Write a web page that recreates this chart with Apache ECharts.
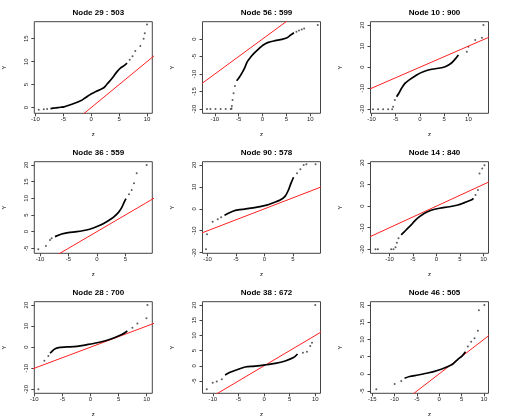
<!DOCTYPE html>
<html>
<head>
<meta charset="utf-8">
<script src="https://cdn.jsdelivr.net/npm/echarts@6/dist/echarts.min.js"></script>
<style>
  html, body { margin: 0; padding: 0; background: #fff; }
  #chart { width: 506px; height: 420px; }
</style>
</head>
<body>
<div id="chart"></div>
<script>
// panel titles, row by row
const titles = ['Node 29 : 503', 'Node 56 : 599', 'Node 10 : 900',
                'Node 36 : 559', 'Node 90 : 578', 'Node 14 : 840',
                'Node 28 : 700', 'Node 38 : 672', 'Node 46 : 505']

// dense part of each curve [z, Y]
const core29 = [[-7.3,-0.22],[-6.4,-0.08],[-5.5,0.07],[-4.9,0.14],[-4.0,0.51],[-3.1,0.88],[-1.9,1.46],[-1.0,2.19],[-0.1,2.92],[0.75,3.43],[1.65,3.95],[2.25,4.31],[2.85,5.12],[3.75,6.37],[4.64,7.82],[5.23,8.57],[5.83,9.08],[6.43,9.67]]
const tail29 = [[-9.4,-0.45],[-8.5,-0.37],[-7.9,-0.3],[6.9,10.4],[7.4,11.2],[7.9,12.3],[8.8,13.4],[9.4,15.0],[9.6,16.2],[10.0,18.1]]

const core56 = [[-5.42,-11.9],[-4.86,-10.9],[-4.35,-9.8],[-3.79,-8.4],[-3.21,-6.5],[-2.51,-5.2],[-1.65,-3.9],[-0.79,-2.8],[0.15,-1.7],[1.22,-0.95],[2.63,-0.48],[4.07,-0.1],[5.14,0.38],[5.85,1.1],[6.57,1.8]]
const tail56 = [[-11.63,-20],[-10.92,-20],[-9.85,-20],[-8.78,-20],[-7.71,-20],[-6.64,-20],[-6.49,-19.8],[-6.42,-19.1],[-6.27,-17.4],[-6.06,-15.5],[-5.78,-13.4],[7.1,2.1],[7.64,2.4],[8.2,2.7],[8.71,3.0],[11.57,4.0]]

const core10 = [[-4.82,-14.0],[-4.35,-12.4],[-3.79,-10.0],[-3.1,-7.7],[-2.07,-5.8],[-0.68,-3.7],[0.68,-2.2],[2.42,-1.0],[4.49,-0.25],[5.53,0.55],[6.56,2.1],[7.39,4.2],[7.93,5.8]]
const tail10 = [[-9.67,-20],[-8.63,-20],[-7.6,-20],[-6.56,-20],[-5.73,-20],[-5.53,-18.8],[-5.18,-15.6],[9.67,7.3],[10.0,9.7],[11.4,12.9],[12.79,14.0],[13.1,20]]

const core36 = [[-7.36,-1.5],[-6.19,-0.7],[-5.03,-0.3],[-3.55,0.0],[-1.8,0.5],[-0.63,1.1],[0.54,1.9],[1.72,3.0],[2.88,4.3],[3.76,5.7],[4.36,7.2],[4.76,8.7],[5.11,9.9]]
const tail36 = [[-10.3,-5.3],[-8.95,-4.3],[-8.24,-2.5],[-7.95,-2.0],[5.64,11.2],[6.12,12.5],[6.52,14.5],[7.0,17.5],[8.75,20]]

const core90 = [[-7.03,-3.0],[-6.44,-2.1],[-5.55,-1.1],[-4.66,-0.5],[-3.47,-0.1],[-1.99,0.4],[-0.8,1.0],[0.39,1.7],[1.57,2.8],[2.76,4.0],[3.65,5.8],[4.23,8.6],[4.66,11.6],[5.12,14.4]]
const tail90 = [[-10.28,-18.5],[-10.1,-11.6],[-9.11,-5.9],[-8.22,-4.8],[-7.62,-3.9],[5.73,16.2],[6.32,18.0],[6.9,20],[7.38,20.3],[8.99,20.3]]

const core14 = [[-7.51,-13.3],[-6.81,-11.8],[-6.09,-10.2],[-5.38,-8.7],[-4.68,-6.9],[-3.62,-4.9],[-2.55,-3.3],[-1.13,-1.9],[0.64,-1.0],[2.77,-0.3],[4.55,0.5],[5.96,1.6],[7.38,2.8],[7.87,3.6]]
const tail14 = [[-12.98,-19.9],[-12.47,-19.9],[-9.64,-19.9],[-9.15,-19.9],[-8.72,-19.0],[-8.43,-16.9],[-8.08,-14.8],[8.3,5.1],[8.81,7.4],[9.15,15.1],[9.72,17.4],[10.21,18.9]]

const core28 = [[-7.19,-2.9],[-6.77,-1.7],[-6.29,-0.7],[-5.39,-0.05],[-4.19,0.1],[-2.4,0.4],[-0.61,1.2],[1.18,2.1],[2.97,3.3],[4.46,4.7],[5.66,6.1],[6.56,7.7]]
const tail28 = [[-9.28,-20],[-8.21,-6.5],[-7.49,-4.2],[7.45,9.2],[8.35,11.3],[9.96,13.7],[10.14,20]]

const core38 = [[-7.6,-3.0],[-6.62,-2.1],[-5.31,-1.3],[-3.69,-0.4],[-1.74,-0.1],[0.21,0.3],[2.17,0.8],[4.12,1.6],[5.74,2.7],[6.52,3.9]]
const tail38 = [[-11.17,-7.7],[-10.0,-5.6],[-9.22,-5.2],[-8.24,-4.4],[7.58,4.3],[8.36,4.6],[9.0,6.5],[9.34,7.6],[9.98,20]]

const core46 = [[-7.77,-1.3],[-6.66,-0.8],[-4.78,-0.35],[-2.92,0.15],[-1.06,0.7],[0.44,1.3],[1.93,2.1],[3.05,2.85],[4.17,4.2],[5.13,5.2],[5.87,6.4]]
const tail46 = [[-14.1,-4.5],[-10.0,-3.0],[-8.51,-2.1],[6.41,7.9],[7.15,9.3],[7.89,10.3],[8.65,12.5],[8.88,18.5],[10.1,20]]

const cores = [core29, core56, core10, core36, core90, core14, core28, core38, core46]
const tails = [tail29, tail56, tail10, tail36, tail90, tail14, tail28, tail38, tail46]

// tick values
const xTicks = [[-10,-5,0,5,10],[-10,-5,0,5,10],[-10,-5,0,5,10],
                [-10,-5,0,5],[-10,-5,0,5],[-10,-5,0,5,10],
                [-10,-5,0,5,10],[-10,-5,0,5,10],[-15,-10,-5,0,5,10]]
const yTicks = [[0,5,10,15],[-20,-15,-10,-5,0],[-20,-10,0,10,20],
                [-5,0,5,10,15,20],[-20,-10,0,10,20],[-20,-10,0,10,20],
                [-20,-10,0,10,20],[-5,0,5,10,15,20],[-5,0,5,10,15,20]]

// axis limits
const xRange = [[-10.2,10.95],[-12.57,12.14],[-10.2,14.14],[-11.0,9.74],[-10.9,9.86],[-14.04,11.06],[-10.0,11.0],[-12.0,11.0],[-15.4,11.03]]
const yRange = [[-1.25,18.7],[-21.2,4.94],[-21.9,21.6],[-6.5,21],[-20.3,21.5],[-21.8,20.5],[-21.9,21.6],[-9.05,21.1],[-5.67,20.96]]

// identity reference line Y = z
const refLine = [-40, 40]

const chart = echarts.init(document.getElementById('chart'))

const lefts = [34.3, 202.5, 370.5]
const tops = [21.7, 161.7, 301.7]
const W = 118
const H = 91.6
const font = 'Liberation Sans, Arial, sans-serif'

const grid = [], xAxis = [], yAxis = [], series = [], title = []

titles.forEach((t, i) => {
  const col = i % 3
  const row = Math.floor(i / 3)
  grid.push({
    left: lefts[col], top: tops[row], width: W, height: H,
    show: true, borderColor: '#444', borderWidth: 1, backgroundColor: 'transparent'
  })
  title.push({
    text: t, left: lefts[col] + W / 2, top: tops[row] - 18, textAlign: 'center',
    textStyle: { fontSize: 8, fontWeight: 'bold', color: '#000', fontFamily: font }
  })
  xAxis.push({
    type: 'value', gridIndex: i, min: xRange[i][0], max: xRange[i][1],
    position: 'bottom',
    name: 'z', nameLocation: 'middle', nameGap: 18,
    nameTextStyle: { fontSize: 6, color: '#000', fontFamily: font },
    axisLine: { show: false, onZero: false },
    axisTick: { show: true, length: 3, customValues: xTicks[i], lineStyle: { color: '#444' } },
    axisLabel: { customValues: xTicks[i], fontSize: 6, margin: 3, color: '#222', fontFamily: font },
    splitLine: { show: false }
  })
  yAxis.push({
    type: 'value', gridIndex: i, min: yRange[i][0], max: yRange[i][1],
    position: 'left',
    name: 'Y', nameLocation: 'middle', nameGap: 27, nameRotate: 90,
    nameTextStyle: { fontSize: 6, color: '#000', fontFamily: font },
    axisLine: { show: false, onZero: false },
    axisTick: { show: true, length: 3, customValues: yTicks[i], lineStyle: { color: '#444' } },
    axisLabel: { customValues: yTicks[i], fontSize: 6, margin: 5, rotate: 90, color: '#222', fontFamily: font },
    splitLine: { show: false }
  })
  series.push({
    type: 'line', xAxisIndex: i, yAxisIndex: i,
    data: refLine.map(v => [v, v]),
    symbol: 'none', clip: true, silent: true,
    lineStyle: { color: '#ff2020', width: 1 }
  })
  series.push({
    type: 'line', xAxisIndex: i, yAxisIndex: i,
    data: cores[i], symbol: 'none', smooth: 0.3, clip: true,
    lineStyle: { color: '#000', width: 1.7 }
  })
  series.push({
    type: 'scatter', xAxisIndex: i, yAxisIndex: i,
    data: tails[i], symbolSize: 2, clip: true,
    itemStyle: { color: '#333' }
  })
})

chart.setOption({
  animation: false,
  backgroundColor: '#fff',
  title, grid, xAxis, yAxis, series
})
</script>
</body>
</html>
